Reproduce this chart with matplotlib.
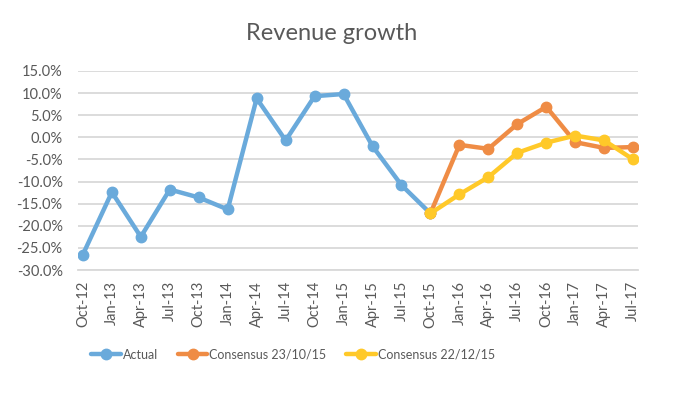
import matplotlib
matplotlib.use('Agg')
import matplotlib.pyplot as plt
import numpy as np

quarters = ['Oct-12', 'Jan-13', 'Apr-13', 'Jul-13', 'Oct-13', 'Jan-14', 'Apr-14',
            'Jul-14', 'Oct-14', 'Jan-15', 'Apr-15', 'Jul-15', 'Oct-15', 'Jan-16',
            'Apr-16', 'Jul-16', 'Oct-16', 'Jan-17', 'Apr-17', 'Jul-17']

# growth in %, None where the series has no value
actual = [-26.5, -12.4, -22.5, -11.8, -13.6, -16.3, 8.8, -0.7, 9.3, 9.8,
          -2.0, -10.8, -17.2] + [None] * 7
consensus_oct15 = [None] * 12 + [-17.2, -1.7, -2.6, 3.0, 6.9, -1.1, -2.4, -2.2]
consensus_dec15 = [None] * 12 + [-17.2, -12.9, -9.0, -3.5, -1.2, 0.4, -0.7, -5.0]

series = [('Actual', actual, '#6aaadb'),
          ('Consensus 23/10/15', consensus_oct15, '#ef8c45'),
          ('Consensus 22/12/15', consensus_dec15, '#ffc929')]

plt.rcParams['font.family'] = ['Lato', 'DejaVu Sans']
text_col = '#595959'
grid_col = '#d9d9d9'

fig = plt.figure(figsize=(6.81, 3.94), dpi=100)
ax = fig.add_axes([0.1145, 0.3147, 0.8225, 0.5051])

x = np.arange(len(quarters))
for name, vals, col in series:
    y = np.array([np.nan if v is None else v for v in vals])
    ax.plot(x, y, color=col, lw=3.2, marker='o', ms=7.5, label=name,
            solid_capstyle='round', solid_joinstyle='round')

ax.set_xlim(-0.17, len(quarters) - 1 + 0.17)
ax.set_ylim(-30, 15)
ax.set_yticks(np.arange(-30, 16, 5))
ax.set_yticklabels(['%.1f%%' % v for v in np.arange(-30, 16, 5)])
ax.set_xticks(x)
ax.set_xticklabels(quarters, rotation=90)
ax.tick_params(length=0, labelsize=10.5, colors=text_col)
ax.tick_params(axis='y', pad=11)
ax.tick_params(axis='x', pad=8)

ax.grid(axis='y', color=grid_col, lw=1.3)
ax.set_axisbelow(True)
for s in ['top', 'right', 'left']:
    ax.spines[s].set_visible(False)
ax.spines['bottom'].set_color(grid_col)
ax.spines['bottom'].set_linewidth(1.3)

fig.text(0.487, 0.915, 'Revenue growth', ha='center', va='center',
         fontsize=17, color=text_col)

leg = fig.legend(loc='center left', bbox_to_anchor=(0.127, 0.1), ncol=3,
                 frameon=False, fontsize=9, handlelength=2.35,
                 handletextpad=0.15, columnspacing=1.6, borderaxespad=0)
for t in leg.get_texts():
    t.set_color(text_col)

fig.savefig('out.png', dpi=100)
